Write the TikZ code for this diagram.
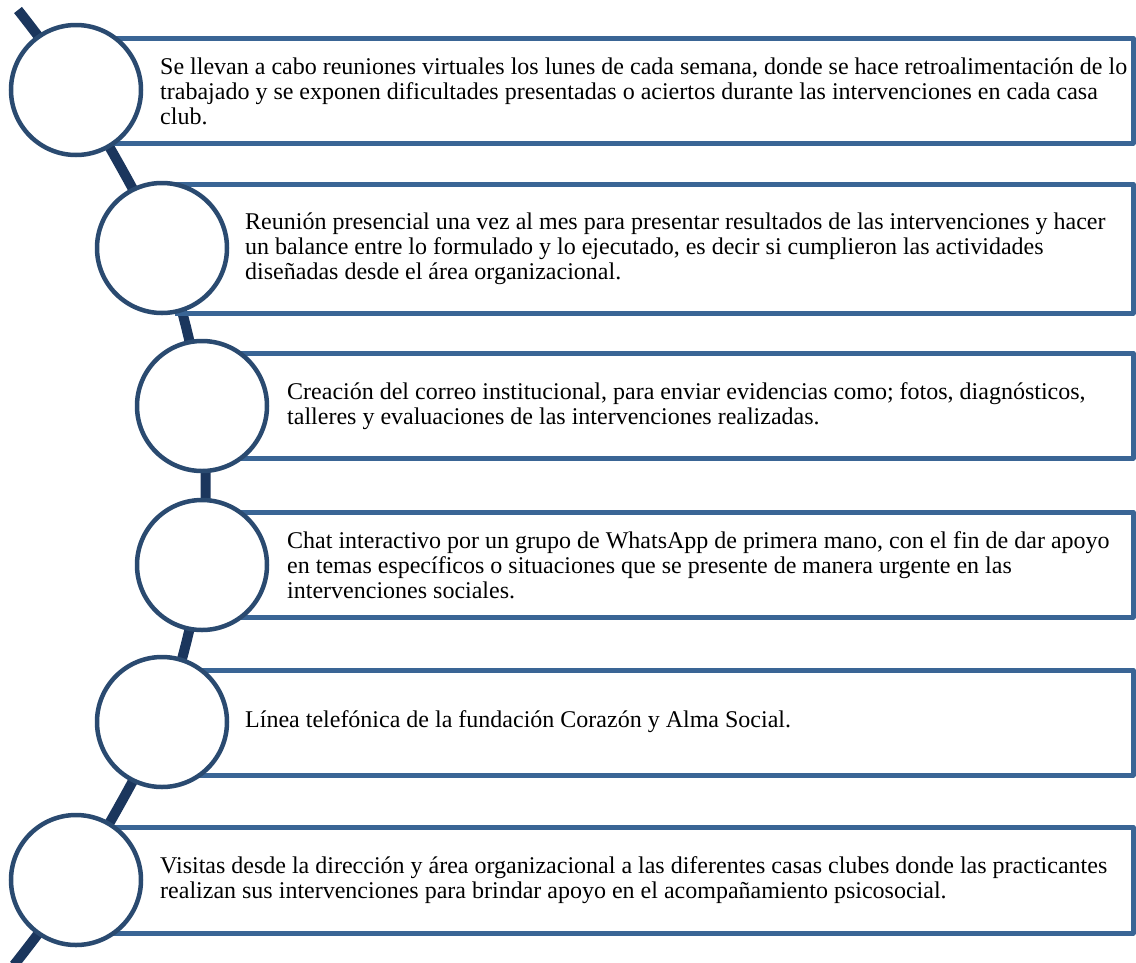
\documentclass[tikz,border=0pt]{standalone}
\usepackage{fontspec}
\setmainfont{Liberation Serif}
\definecolor{spine}{HTML}{1B365D}
\definecolor{ring}{HTML}{2A4A70}
\definecolor{boxc}{HTML}{3A6595}
\tikzset{
  itembox/.style={draw=boxc, line width=5pt, line join=round},
  ringnode/.style={circle, draw=ring, line width=4.5pt, fill=white, minimum size=130pt, inner sep=0pt},
  itemtext/.style={anchor=west, align=left, inner sep=0pt, font=\fontsize{24}{25}\selectfont, text=black}
}
\begin{document}
\begin{tikzpicture}[x=1pt,y=-1pt]
\useasboundingbox (0,0) rectangle (1136,962);
% spine
\draw[spine, line width=10pt] plot[smooth, tension=0.45] coordinates {(18,10) (76,90) (162,248) (202,406) (202,565) (162,722) (76,880) (14,965)};
% boxes (left side hidden behind the rings)
\draw[itembox] (100,38) -- (1133,38) -- (1133,143) -- (100,143);
\draw[itembox] (175,184) -- (1133,184) -- (1133,313) -- (175,313);
\draw[itembox] (215,353) -- (1133,353) -- (1133,458) -- (215,458);
\draw[itembox] (215,512) -- (1133,512) -- (1133,617) -- (215,617);
\draw[itembox] (175,670) -- (1133,670) -- (1133,775) -- (175,775);
\draw[itembox] (100,827) -- (1133,827) -- (1133,933) -- (100,933);
% rings
\node[ringnode] (c1) at (76,90) {};
\node[ringnode] (c2) at (162,248) {};
\node[ringnode] (c3) at (202,406) {};
\node[ringnode] (c4) at (202,565) {};
\node[ringnode] (c5) at (162,722) {};
\node[ringnode] (c6) at (76,880) {};
% texts
\node[itemtext] (t1) at (160,91) {Se llevan a cabo reuniones virtuales los lunes de cada semana, donde se hace retroalimentación de lo\\trabajado y se exponen dificultades presentadas o aciertos durante las intervenciones en cada casa\\club.};
\node[itemtext] (t2) at (245,249) {Reunión presencial una vez al mes para presentar resultados de las intervenciones y hacer\\un balance entre lo formulado y lo ejecutado, es decir si cumplieron las actividades\\diseñadas desde el área organizacional.};
\node[itemtext] (t3) at (287,406) {Creación del correo institucional, para enviar evidencias como; fotos, diagnósticos,\\talleres y evaluaciones de las intervenciones realizadas.};
\node[itemtext] (t4) at (287,565) {Chat interactivo por un grupo de WhatsApp de primera mano, con el fin de dar apoyo\\en temas específicos o situaciones que se presente de manera urgente en las\\intervenciones sociales.};
\node[itemtext] (t5) at (245,722) {Línea telefónica de la fundación Corazón y Alma Social.};
\node[itemtext] (t6) at (160,880) {Visitas desde la dirección y área organizacional a las diferentes casas clubes donde las practicantes\\realizan sus intervenciones para brindar apoyo en el acompañamiento psicosocial.};
\end{tikzpicture}
\end{document}
